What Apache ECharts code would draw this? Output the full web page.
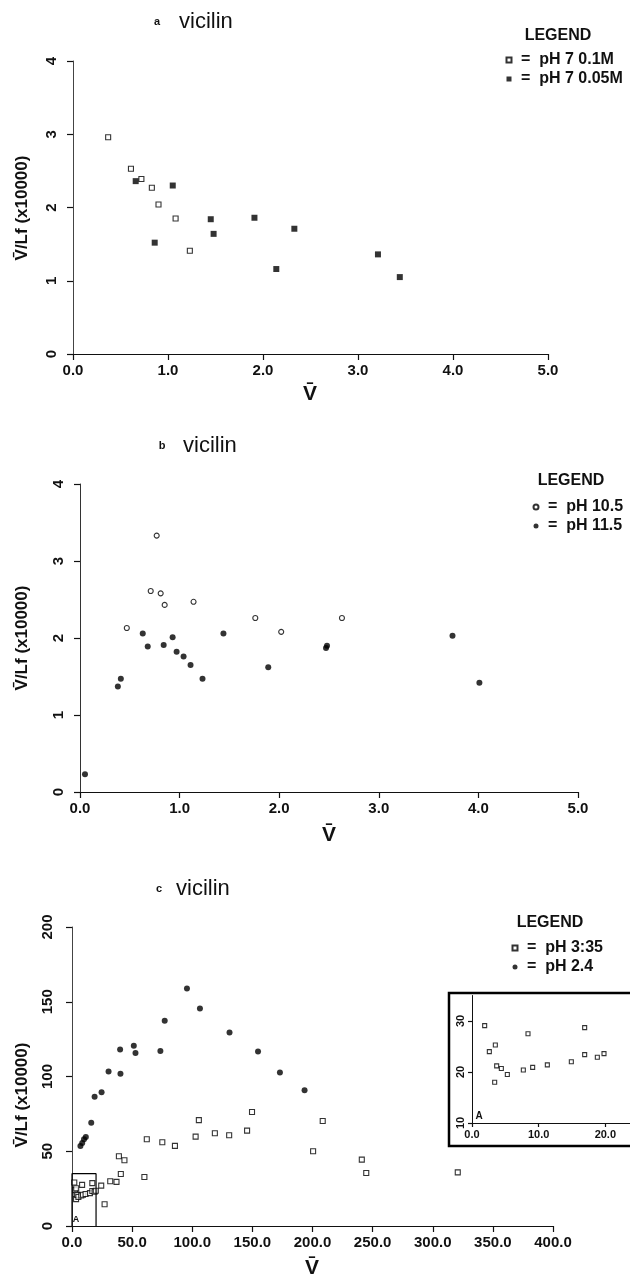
<!DOCTYPE html>
<html>
<head>
<meta charset="utf-8">
<script src="https://cdn.jsdelivr.net/npm/echarts@6.0.0/dist/echarts.min.js"></script>
<style>
  html, body { margin: 0; padding: 0; background: #fff; }
  #chart { width: 630px; height: 1281px; }
</style>
</head>
<body>
<div id="chart"></div>
<script>
/** 面板 a：pH 7 两种离子强度 [V, V/Lf] */
const aOpen01M = [[0.37, 2.96], [0.61, 2.53], [0.72, 2.39], [0.83, 2.27], [0.90, 2.04], [1.08, 1.85], [1.23, 1.41]];
const aFilled005M = [[0.66, 2.36], [1.05, 2.30], [0.86, 1.52], [1.45, 1.84], [1.48, 1.64], [1.91, 1.86],
  [2.14, 1.16], [2.33, 1.71], [3.21, 1.36], [3.44, 1.05]];

/** 面板 b：pH 10.5 / pH 11.5 */
const bOpen105 = [[0.77, 3.33], [0.71, 2.61], [0.81, 2.58], [0.85, 2.43], [1.14, 2.47], [0.47, 2.13],
  [1.76, 2.26], [2.02, 2.08], [2.63, 2.26]];
const bFilled115 = [[0.05, 0.23], [0.38, 1.37], [0.41, 1.47], [0.63, 2.06], [0.68, 1.89], [0.84, 1.91],
  [0.93, 2.01], [0.97, 1.82], [1.04, 1.76], [1.11, 1.65], [1.23, 1.47], [1.44, 2.06], [1.89, 1.62],
  [2.47, 1.87], [2.48, 1.90], [3.74, 2.03], [4.01, 1.42]];

/** 面板 c：pH 3:35（主图与插图 A 共用）/ pH 2.4 */
const cOpen335 = [[1.9, 29.1], [2.6, 24.0], [3.5, 25.3], [3.4, 18.0], [3.7, 21.2], [4.4, 20.7], [5.3, 19.5],
  [7.7, 20.4], [8.4, 27.5], [9.1, 20.9], [11.3, 21.4], [14.9, 22.0], [16.9, 28.7], [16.9, 23.4],
  [18.8, 22.9], [19.8, 23.6], [24.3, 27.0], [27.1, 14.5], [31.8, 29.9], [37.0, 29.5], [39.0, 46.7],
  [43.6, 44.0], [40.6, 34.8], [60.2, 32.8], [62.2, 58.0], [75.1, 56.0], [85.6, 53.6], [102.8, 59.8],
  [105.5, 70.8], [118.8, 62.0], [130.7, 60.7], [145.6, 63.8], [149.7, 76.3], [200.5, 50.0],
  [208.5, 70.2], [241.0, 44.4], [244.7, 35.5], [320.8, 35.9]];
const cFilled24 = [[7.0, 53.5], [8.5, 55.5], [10.0, 58.0], [11.5, 59.5], [16.0, 69.0], [18.8, 86.4],
  [24.6, 89.5], [30.4, 103.3], [40.0, 118.0], [40.3, 101.8], [51.4, 120.5], [52.8, 115.8], [73.5, 117.0],
  [77.1, 137.3], [95.6, 158.9], [106.4, 145.5], [131.0, 129.5], [154.7, 116.7], [172.9, 102.7], [193.4, 90.8]];

/** 主图中插图 A 的范围框 */
const cBoxA = [[0, 0], [0, 35], [20, 35], [20, 0]];

const FONT = '"Liberation Sans", Arial, sans-serif';
const INK = '#111';
const VBAR = 'V\u0304';

/** 坐标轴公共样式 */
function makeAxis(gridIndex, min, max, interval, opts) {
  const o = opts || {};
  return {
    type: 'value',
    gridIndex,
    min,
    max,
    interval,
    axisLine: { show: true, onZero: false, lineStyle: { color: o.lineColor || INK, width: o.lineWidth || 1.2 } },
    axisTick: { show: true, inside: false, length: o.tickLen || 6, lineStyle: { color: INK, width: 1.2 } },
    axisLabel: {
      color: INK,
      fontFamily: FONT,
      fontWeight: 'bold',
      fontSize: o.fontSize || 15,
      margin: o.margin || 8,
      rotate: o.rotate || 0,
      showMaxLabel: o.showMax !== false,
      formatter: o.formatter
    },
    splitLine: { show: false }
  };
}

const fix1 = v => v.toFixed(1);
const int0 = v => String(v);

/** 散点系列 */
function openSeries(name, symbol, data, xi, size) {
  return {
    name, type: 'scatter', xAxisIndex: xi, yAxisIndex: xi, data, symbol, symbolSize: size || 5, clip: true,
    itemStyle: { color: '#fff', borderColor: '#000', borderWidth: 1.1 }
  };
}
function filledSeries(name, symbol, data, xi, size) {
  return {
    name, type: 'scatter', xAxisIndex: xi, yAxisIndex: xi, data, symbol, symbolSize: size || 6, clip: true,
    itemStyle: { color: '#000' }
  };
}

/** 图例（"符号 = 名称"） */
function makeLegend(names, left, top) {
  return {
    data: names,
    orient: 'vertical',
    left, top,
    itemWidth: 5, itemHeight: 5, itemGap: 1,
    selectedMode: false,
    formatter: n => ' =  ' + n,
    textStyle: { color: INK, fontFamily: FONT, fontWeight: 'bold', fontSize: 16, lineHeight: 18 }
  };
}

function txt(x, y, text, font, extra) {
  return Object.assign({
    type: 'text', x, y,
    style: { text, fill: INK, font, align: 'center', verticalAlign: 'middle' }
  }, extra || {});
}
function leftTxt(x, y, text, font) {
  return { type: 'text', x, y, style: { text, fill: INK, font, align: 'left', verticalAlign: 'middle' } };
}

const chart = echarts.init(document.getElementById('chart'), null, { renderer: 'canvas' });

const option = {
  animation: false,
  backgroundColor: '#fff',
  grid: [
    { left: 73, top: 61, width: 475, height: 293, outerBoundsMode: 'none' },
    { left: 80, top: 484, width: 498, height: 308, outerBoundsMode: 'none' },
    { left: 72, top: 927, width: 481, height: 299, outerBoundsMode: 'none' },
    { left: 472, top: 995.5, width: 200, height: 127.5, outerBoundsMode: 'none' }
  ],
  xAxis: [
    makeAxis(0, 0, 5, 1, { formatter: fix1, margin: 9 }),
    makeAxis(1, 0, 5, 1, { formatter: fix1, margin: 9 }),
    makeAxis(2, 0, 400, 50, { formatter: fix1, margin: 9 }),
    makeAxis(3, 0, 30, 10, { formatter: fix1, fontSize: 11, margin: 6, tickLen: 4, lineWidth: 1 })
  ],
  yAxis: [
    makeAxis(0, 0, 4, 1, { formatter: int0, rotate: 90, margin: 14, lineColor: '#444', lineWidth: 1 }),
    makeAxis(1, 0, 4, 1, { formatter: int0, rotate: 90, margin: 14, lineColor: '#333', lineWidth: 1 }),
    makeAxis(2, 0, 200, 50, { formatter: int0, rotate: 90, margin: 17, lineColor: '#444', lineWidth: 1 }),
    makeAxis(3, 10, 35, 10, { formatter: int0, rotate: 90, fontSize: 11, margin: 6, tickLen: 4, lineWidth: 1, showMax: false })
  ],
  legend: [
    makeLegend(['pH 7 0.1M', 'pH 7 0.05M'], 500.5, 46),
    makeLegend(['pH 10.5', 'pH 11.5'], 527.5, 493),
    makeLegend(['pH 3:35', 'pH 2.4'], 506.5, 934)
  ],
  series: [
    openSeries('pH 7 0.1M', 'rect', aOpen01M, 0, 5),
    filledSeries('pH 7 0.05M', 'rect', aFilled005M, 0, 6),
    openSeries('pH 10.5', 'circle', bOpen105, 1, 5),
    filledSeries('pH 11.5', 'circle', bFilled115, 1, 6),
    openSeries('pH 3:35', 'rect', cOpen335, 2, 5),
    filledSeries('pH 2.4', 'circle', cFilled24, 2, 6),
    openSeries('pH 3:35', 'rect', cOpen335, 3, 4),
    {
      type: 'line', xAxisIndex: 2, yAxisIndex: 2, data: cBoxA, symbol: 'none', silent: true,
      lineStyle: { color: '#000', width: 1.2 }
    }
  ],
  graphic: [
    // 标题
    txt(157, 22, 'a', 'bold 11px ' + FONT),
    leftTxt(179, 22, 'vicilin', '22px ' + FONT),
    txt(162, 446, 'b', 'bold 11px ' + FONT),
    leftTxt(183, 446, 'vicilin', '22px ' + FONT),
    txt(159, 889, 'c', 'bold 11px ' + FONT),
    leftTxt(176, 889, 'vicilin', '22px ' + FONT),
    // 图例标题
    txt(558, 36, 'LEGEND', 'bold 16px ' + FONT),
    txt(571, 481, 'LEGEND', 'bold 16px ' + FONT),
    txt(550, 923, 'LEGEND', 'bold 16px ' + FONT),
    // 轴名
    txt(22, 208, VBAR + '/Lf (x10000)', 'bold 17px ' + FONT, { rotation: Math.PI / 2 }),
    txt(22, 638, VBAR + '/Lf (x10000)', 'bold 17px ' + FONT, { rotation: Math.PI / 2 }),
    txt(22, 1095, VBAR + '/Lf (x10000)', 'bold 17px ' + FONT, { rotation: Math.PI / 2 }),
    txt(310, 394, VBAR, 'bold 21px ' + FONT),
    txt(329, 835, VBAR, 'bold 21px ' + FONT),
    txt(312, 1268, VBAR, 'bold 21px ' + FONT),
    // 插图 A 标记与边框
    txt(76, 1220, 'A', 'bold 9px ' + FONT),
    txt(479, 1116, 'A', 'bold 10px ' + FONT),
    {
      type: 'rect', z: 100,
      shape: { x: 449, y: 993, width: 200, height: 153 },
      style: { fill: null, stroke: '#000', lineWidth: 2.5 }
    }
  ]
};

chart.setOption(option);
</script>
</body>
</html>
